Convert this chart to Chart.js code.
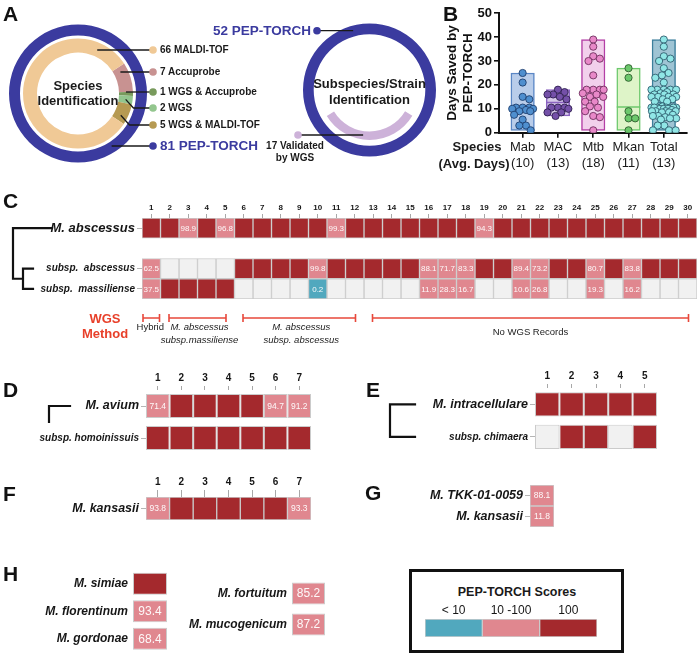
<!DOCTYPE html>
<html>
<head>
<meta charset="utf-8">
<script src="https://cdn.jsdelivr.net/npm/chart.js@4.4.0/dist/chart.umd.min.js"></script>
<style>
  body { margin: 0; background: #fff; }
  #fig { position: relative; width: 700px; height: 655px; overflow: hidden;
         font-family: "Liberation Sans", Arial, sans-serif; color: #1a1a1a; }
  #fig canvas { position: absolute; }
  .t { position: absolute; white-space: nowrap; line-height: 1; }
  .legendBox { position: absolute; left: 409px; top: 569px; width: 215px; height: 84px;
               box-sizing: border-box; border: 3px solid #111; }
</style>
</head>
<body>
<div id="fig"><div class="legendBox"></div></div>
<script>
// ---- A: identification counts
const methodLabels = ['Accuprobe', 'WGS & Accuprobe', 'WGS', 'WGS & MALDI-TOF', 'MALDI-TOF'];
const methodCounts = [7, 1, 2, 5, 66];
const speciesPepTorch = 81;
const strainPepTorch = 52;
const strainValidated = 17;

// ---- B: days saved per species group
const groupNames = ['Mab', 'MAC', 'Mtb', 'Mkan', 'Total'];
const groupAvgDays = [10, 13, 18, 11, 13];
const groupMeans = [10, 12.6, 17, 10.8, 12.6];
const mabDays = [25, 21, 15, 14, 10.5, 10.5, 10.5, 10, 10, 9.5, 9, 9, 7.5, 5.5, 3, 3, 1];
const macDays = [18, 17, 16, 16, 15, 14, 10.5, 10.5, 10.5, 10, 8.5, 8.5, 7];
const mtbDays = [39, 36, 32, 31, 30, 24, 18, 18, 18, 18, 16.5, 16, 15, 15, 13, 13, 11, 10.5, 9, 7, 6.5, 1];
const mkanDays = [27, 23, 9, 6, 6, 1];
const totalDays = [].concat(mabDays, macDays, mtbDays, mkanDays);

// ---- C: M. abscessus, 30 isolates
const colsC = ['1','2','3','4','5','6','7','8','9','10','11','12','13','14','15',
               '16','17','18','19','20','21','22','23','24','25','26','27','28','29','30'];
const rowsC = ['M. abscessus', '', 'subsp.  abscessus', 'subsp.  massiliense'];
const scoreAbscessus = [100, 100, 98.9, 100, 96.8, 100, 100, 100, 100, 100, 99.3, 100, 100, 100, 100,
                        100, 100, 100, 94.3, 100, 100, 100, 100, 100, 100, 100, 100, 100, 100, 100];
const scoreSubAbscessus = [62.5, null, null, null, null, 100, 100, 100, 100, 99.8, 100, 100, 100, 100, 100,
                           88.1, 71.7, 83.3, 100, 100, 89.4, 73.2, 100, 100, 80.7, 100, 83.8, 100, 100, 100];
const scoreMassiliense = [37.5, 100, 100, 100, 100, null, null, null, null, 0.2, null, null, null, null, null,
                          11.9, 28.3, 16.7, null, null, 10.6, 26.8, null, null, 19.3, null, 16.2, null, null, null];
const wgsMethods = [
  { from: 1, to: 1, text: ['Hybrid'], italic: false },
  { from: 2, to: 5, text: ['M. abscessus', 'subsp.massiliense'], italic: true },
  { from: 6, to: 12, text: ['M. abscessus', 'subsp. abscessus'], italic: true },
  { from: 13, to: 30, text: ['No WGS Records'], italic: false }
];

// ---- D / E / F / G / H
const cols7 = ['1','2','3','4','5','6','7'];
const cols5 = ['1','2','3','4','5'];
const rowsD = ['M. avium', 'subsp. homoinissuis'];
const scoreAvium = [71.4, 100, 100, 100, 100, 94.7, 91.2];
const scoreHomoinissuis = [100, 100, 100, 100, 100, 100, 100];
const rowsE = ['M. intracellulare', 'subsp. chimaera'];
const scoreIntracellulare = [100, 100, 100, 100, 100];
const scoreChimaera = [null, 100, 100, null, 100];
const rowsF = ['M. kansasii'];
const scoreKansasii = [93.8, 100, 100, 100, 100, 100, 93.3];
const rowsG = ['M. TKK-01-0059', 'M. kansasii'];
const scoreG = [88.1, 11.8];
const rowsH1 = ['M. simiae', 'M. florentinum', 'M. gordonae'];
const scoreH1 = [100, 93.4, 68.4];
const rowsH2 = ['M. fortuitum', 'M. mucogenicum'];
const scoreH2 = [85.2, 87.2];
const scoreBins = ['< 10', '10 -100', '100'];
const binSamples = [5, 50, 100];

// ---------------------------------------------------------------
const fig = document.getElementById('fig');
const FAM = 'Liberation Sans';
Chart.defaults.font.family = FAM;
const RING_BLUE = '#3b3b9f', LILAC = '#cdb2d9';
const methodColors = ['#c89291', '#789a5c', '#93c68e', '#b69a52', '#f0c996'];
const PINK = '#e0878f', RED = '#a4292d', TEAL = '#51a8be', EMPTY = '#f1f1f1';

function scoreColor(v) {
  if (v === null || v === undefined) return EMPTY;
  if (v < 10) return TEAL;
  if (v < 100) return PINK;
  return RED;
}

function makeCanvas(l, t, w, h) {
  const c = document.createElement('canvas');
  c.width = w; c.height = h;
  c.style.left = l + 'px'; c.style.top = t + 'px';
  c.style.width = w + 'px'; c.style.height = h + 'px';
  fig.appendChild(c);
  return c;
}

function txt(s, x, y, css, align) {
  const d = document.createElement('div');
  d.className = 't';
  d.textContent = s;
  d.style.cssText += css;
  d.style.left = x + 'px';
  d.style.top = y + 'px';
  const tx = align === 'right' ? '-100%' : align === 'left' ? '0' : '-50%';
  d.style.transform = 'translate(' + tx + ',-50%)';
  fig.appendChild(d);
}

const base = { responsive: false, animation: false, events: [],
               plugins: { legend: { display: false }, tooltip: { enabled: false } } };

// ---------------- A: doughnuts
function leaderPlugin(items, offX, offY) {
  return {
    id: 'leaders',
    afterDatasetsDraw(chart) {
      const ctx = chart.ctx;
      ctx.save();
      items.forEach(it => {
        const arc = chart.getDatasetMeta(it.ds).data[0];
        const r = (arc.innerRadius + arc.outerRadius) / 2;
        const a = (it.angle - 90) * Math.PI / 180;
        const px = arc.x + r * Math.cos(a), py = arc.y + r * Math.sin(a);
        const dx = it.dotX - offX, dy = it.dotY - offY;
        ctx.strokeStyle = '#1a1a1a';
        ctx.lineWidth = 1.3;
        ctx.beginPath();
        if (Math.abs(dy - py) > 3) {
          ctx.moveTo(px, py);
          ctx.lineTo(px + Math.abs(dy - py) * 0.9 * Math.sign(dx - px), dy);
        } else {
          ctx.moveTo(px, dy);
        }
        ctx.lineTo(dx, dy);
        ctx.stroke();
        ctx.fillStyle = it.color;
        ctx.beginPath();
        ctx.arc(dx, dy, 3.8, 0, Math.PI * 2);
        ctx.fill();
      });
      ctx.restore();
    }
  };
}

const leftDotY = [72, 92, 108, 125, 50];
const leftAngles = [62, 88, 97, 117, 23.6];
const leftItems = methodCounts.map((c, i) => ({ ds: 2, angle: leftAngles[i], dotX: 153, dotY: leftDotY[i], color: methodColors[i] }));
leftItems.push({ ds: 0, angle: 148, dotX: 153, dotY: 146, color: RING_BLUE });

new Chart(makeCanvas(0, 0, 240, 187), {
  type: 'doughnut',
  data: {
    labels: methodLabels,
    datasets: [
      { data: [speciesPepTorch], backgroundColor: [RING_BLUE], weight: 11 },
      { data: [1], backgroundColor: ['rgba(0,0,0,0)'], weight: 3 },
      { data: methodCounts, backgroundColor: methodColors, weight: 14, rotation: 57 }
    ]
  },
  options: Object.assign({}, base, {
    radius: 69, cutout: (41 / 69 * 100) + '%',
    elements: { arc: { borderWidth: 0 } },
    layout: { padding: { left: 0, right: 84, top: 0, bottom: 0 } }
  }),
  plugins: [leaderPlugin(leftItems, 0, 0)]
});

new Chart(makeCanvas(220, 0, 220, 180), {
  type: 'doughnut',
  data: {
    labels: ['Validated by WGS', 'Other'],
    datasets: [
      { data: [strainPepTorch], backgroundColor: [RING_BLUE], weight: 10.7 },
      { data: [1], backgroundColor: ['rgba(0,0,0,0)'], weight: 5.8 },
      { data: [strainValidated, strainPepTorch - strainValidated], backgroundColor: [LILAC, 'rgba(0,0,0,0)'], weight: 8.5, rotation: 121 }
    ]
  },
  options: Object.assign({}, base, {
    radius: 66.5, cutout: (41.5 / 66.5 * 100) + '%',
    elements: { arc: { borderWidth: 0 } },
    layout: { padding: { left: 79, right: 0, top: 0, bottom: 0 } }
  }),
  plugins: [leaderPlugin([
    { ds: 0, angle: 344.5, dotX: 317, dotY: 30.7, color: RING_BLUE },
    { ds: 2, angle: 188, dotX: 298, dotY: 135, color: LILAC }
  ], 220, 0)]
});

const panelCss = 'font-weight:bold;font-size:21px;color:#111;';
txt('A', 3, 13, panelCss, 'left');
txt('Species', 78, 85, 'font-weight:bold;font-size:13px;', 'center');
txt('Identification', 78, 100, 'font-weight:bold;font-size:13px;', 'center');
methodCounts.forEach((c, i) => txt(c + ' ' + methodLabels[i], 160, leftDotY[i], 'font-weight:bold;font-size:10px;', 'left'));
txt(speciesPepTorch + ' PEP-TORCH', 160, 146, 'font-weight:bold;font-size:13.5px;color:' + RING_BLUE + ';', 'left');
txt(strainPepTorch + ' PEP-TORCH', 311, 31, 'font-weight:bold;font-size:13.5px;color:' + RING_BLUE + ';', 'right');
txt('Subspecies/Strain', 369.5, 83, 'font-weight:bold;font-size:13px;', 'center');
txt('Identification', 369.5, 99, 'font-weight:bold;font-size:13px;', 'center');
txt(strainValidated + ' Validated', 295, 146, 'font-weight:bold;font-size:10px;', 'center');
txt('by WGS', 295, 158, 'font-weight:bold;font-size:10px;', 'center');

// ---------------- B: days saved
const X_PX = 37.2, Y_PX = 2.52, DOT = 7;
function swarm(vals, idx, spread) {
  const placed = [];
  const cands = [];
  for (let d = 0; d <= spread; d += 0.5) { cands.push(d); if (d) cands.push(-d); }
  return vals.slice().sort((a, b) => b - a).map(v => {
    const py = v * Y_PX;
    let best = 0, bestGap = -1;
    for (const dx of cands) {
      let gap = Infinity;
      placed.forEach(p => { gap = Math.min(gap, Math.hypot(dx - p[0], py - p[1])); });
      if (gap >= DOT) { best = dx; break; }
      if (gap > bestGap) { bestGap = gap; best = dx; }
    }
    placed.push([best, py]);
    return { x: idx + best / X_PX, y: v };
  });
}

const groups = [mabDays, macDays, mtbDays, mkanDays, totalDays];
const boxFill = ['#b9cdea', '#d6c9e9', '#f2d0ec', '#def4c8', '#9fc4d4'];
const boxLine = ['#5b87c5', '#8a62c0', '#b43fa6', '#6cc86c', '#3c7f9c'];
const dotFill = ['#4f8fcf', '#7450a8', '#e888c8', '#6cc86c', '#90e6e6'];
const dotLine = ['#1f3f6f', '#2f1f4f', '#6f2f5f', '#2f5f2f', '#2f5f6f'];

const bDatasets = [
  { type: 'bar', data: groups.map((g, i) => ({ x: i, y: [Math.min(...g), Math.max(...g)] })),
    backgroundColor: boxFill, borderColor: boxLine, borderWidth: 1.5, borderSkipped: false,
    barThickness: 23.5, order: 3 },
  { type: 'scatter', data: groupMeans.map((m, i) => ({ x: i, y: m })), pointStyle: 'line',
    pointRadius: 11.75, pointBorderColor: boxLine, pointBorderWidth: 1.5, order: 2 }
].concat(groups.map((g, i) => ({
  type: 'scatter', data: swarm(g, i, i === 4 ? 13 : 11), pointRadius: 3.6,
  pointBackgroundColor: dotFill[i], pointBorderColor: dotLine[i], pointBorderWidth: 0.9, order: 1
})));

new Chart(makeCanvas(430, 0, 270, 176), {
  type: 'bar',
  data: { datasets: bDatasets },
  options: Object.assign({}, base, {
    layout: { padding: { top: 6.7, right: 3, left: 0, bottom: 0 } },
    scales: {
      x: { type: 'linear', min: -0.67, max: 4.65, offset: false,
           afterBuildTicks: s => { s.ticks = groupNames.map((n, i) => ({ value: i })); },
           ticks: { autoSkip: false, maxRotation: 0, minRotation: 0, padding: 2, color: '#1a1a1a',
                    font: { size: 13 }, callback: (v, i) => [groupNames[i], '(' + groupAvgDays[i] + ')'] },
           grid: { offset: false, drawOnChartArea: false, drawTicks: true, tickLength: 5, color: '#111', lineWidth: 1.6 },
           border: { color: '#111', width: 2 },
           afterFit: s => { s.height = 43.3; s.paddingLeft = 0; s.paddingRight = 0; } },
      y: { min: 0, max: 50,
           ticks: { stepSize: 10, padding: 2, color: '#111', font: { size: 13, weight: 'bold' } },
           grid: { drawOnChartArea: false, drawTicks: true, tickLength: 5, color: '#111', lineWidth: 1.6 },
           border: { color: '#111', width: 2 },
           title: { display: true, text: ['Days Saved by', 'PEP-TORCH'], color: '#111',
                    font: { size: 13.5, weight: 'bold' }, padding: { top: 14, bottom: 0 } },
           afterFit: s => { s.width = 69; s.paddingTop = 0; s.paddingBottom = 0; } }
    }
  })
});

txt('B', 443, 13, panelCss, 'left');
txt('Species', 477, 146, 'font-weight:bold;font-size:13px;', 'center');
txt('(Avg. Days)', 474, 163, 'font-weight:bold;font-size:13px;', 'center');

// ---------------- heat maps (C-H)
function makeHeat(o) {
  const ncol = o.values.find(r => r).length;
  const topH = o.cols ? o.topH : 0;
  const cl = o.l - o.labelW, ct = o.t - topH;
  const cw = Math.ceil(o.labelW + o.w + 3), ch = Math.ceil(topH + o.h + (o.padB || 3));
  const cv = makeCanvas(cl, ct, cw, ch);
  const datasets = [];
  for (let j = 0; j < ncol; j++) {
    datasets.push({
      data: o.values.map(r => r ? 1 : null),
      backgroundColor: o.values.map(r => r ? scoreColor(r[j]) : 'rgba(0,0,0,0)'),
      borderColor: o.border || 'rgba(200,200,200,0.95)', borderWidth: 1, borderSkipped: false,
      barPercentage: o.barPct || 1, categoryPercentage: 1
    });
  }
  const extra = {
    id: 'heatExtra',
    afterDatasetsDraw(chart) {
      const ctx = chart.ctx;
      ctx.save();
      if (o.cellFont) {
        ctx.font = o.cellFont + 'px ' + FAM;
        ctx.fillStyle = 'rgba(255,255,255,0.95)';
        ctx.textAlign = 'center';
        ctx.textBaseline = 'middle';
        chart.data.datasets.forEach((ds, j) => chart.getDatasetMeta(j).data.forEach((el, i) => {
          const r = o.values[i];
          if (!r) return;
          const v = r[j];
          if (v === null || v >= 100) return;
          const p = el.getCenterPoint();
          ctx.fillText(v.toFixed(1), p.x, p.y + 0.5);
        }));
      }
      if (o.tree) {
        const ys = chart.scales.y;
        ctx.strokeStyle = '#111';
        ctx.lineWidth = 2.2;
        ctx.lineCap = 'square';
        ctx.beginPath();
        o.tree.forEach(s => {
          ctx.moveTo(s[0] - cl, ys.getPixelForValue(s[1]));
          ctx.lineTo(s[2] - cl, ys.getPixelForValue(s[3]));
        });
        ctx.stroke();
      }
      if (o.brackets) {
        const xs = chart.scales.x;
        const yb = o.bracketY - ct;
        ctx.strokeStyle = '#e8483b';
        ctx.lineWidth = 1.6;
        ctx.lineCap = 'butt';
        ctx.beginPath();
        o.brackets.forEach(b => {
          const inset = b.from === b.to ? 1 : 8.5;
          const xa = xs.getPixelForValue(b.from - 1) + inset, xb = xs.getPixelForValue(b.to) - inset;
          ctx.moveTo(xa, yb); ctx.lineTo(xb, yb);
          ctx.moveTo(xa, yb - 4); ctx.lineTo(xa, yb + 4);
          ctx.moveTo(xb, yb - 4); ctx.lineTo(xb, yb + 4);
        });
        ctx.stroke();
      }
      ctx.restore();
    }
  };
  const yTick = o.yTick === undefined ? 5 : o.yTick;
  const xTick = o.xTick === undefined ? 4 : o.xTick;
  return new Chart(cv, {
    type: 'bar',
    data: { labels: o.rows, datasets },
    options: Object.assign({}, base, {
      indexAxis: 'y',
      layout: { padding: { left: 0, top: 0, right: cw - o.labelW - o.w, bottom: ch - topH - o.h } },
      scales: {
        x: { type: 'linear', position: 'top', stacked: true, min: 0, max: ncol, offset: false, display: !!o.cols,
             afterBuildTicks: s => { if (o.cols) s.ticks = o.cols.map((c, i) => ({ value: i + 0.5 })); },
             ticks: { autoSkip: false, maxRotation: 0, minRotation: 0, padding: o.xPad === undefined ? 1 : o.xPad,
                      color: '#161616', font: { size: o.colFont || 8, weight: o.colWeight || 'bold' },
                      callback: (v, i) => o.cols ? o.cols[i] : '' },
             grid: { drawOnChartArea: false, drawTicks: xTick > 0, tickLength: xTick, color: '#a8a8a8', lineWidth: 1 },
             border: { display: false },
             afterFit: s => { s.height = topH; s.paddingLeft = 0; s.paddingRight = 0; } },
        y: { type: 'category', stacked: true, offset: true, display: o.labelW > 0,
             grid: { offset: false, drawOnChartArea: false, drawTicks: yTick > 0, tickLength: yTick,
                     color: c => (c.tick && c.tick.label) ? '#b5b5b5' : 'rgba(0,0,0,0)', lineWidth: 1 },
             border: { display: false },
             ticks: { autoSkip: false, padding: o.yPad === undefined ? 2 : o.yPad, color: '#161616',
                      font: c => ({ size: o.rowFonts ? o.rowFonts[c.index] : 12, weight: 'bold', style: 'italic' }) },
             afterFit: s => { s.width = o.labelW; s.paddingTop = 0; s.paddingBottom = 0; } }
      }
    }),
    plugins: [extra]
  });
}

// C
const colW = 555 / colsC.length;
makeHeat({ rows: rowsC, values: [scoreAbscessus, null, scoreSubAbscessus, scoreMassiliense], cols: colsC,
  l: 142, t: 218, w: 555, h: 81, labelW: 142, topH: 15, padB: 48, rowFonts: [13, 10, 10, 10],
  colFont: 8, xTick: 4, cellFont: 8,
  tree: [[13, 0, 52, 0], [13, 0, 13, 2.5], [13, 2.5, 23, 2.5], [23, 2, 23, 3], [23, 2, 33, 2], [23, 3, 33, 3]],
  brackets: wgsMethods, bracketY: 318 });
txt('C', 3, 200, panelCss, 'left');
txt('WGS', 105, 318, 'font-weight:bold;font-size:13px;color:#e8402a;', 'center');
txt('Method', 105, 333, 'font-weight:bold;font-size:13px;color:#e8402a;', 'center');
wgsMethods.forEach(m => {
  const cx = 142 + ((m.from - 1) + m.to) / 2 * colW;
  const css = 'font-size:9.5px;color:#222;' + (m.italic ? 'font-style:italic;' : '');
  if (m.text.length === 1) txt(m.text[0], m.from === m.to ? cx - 1 : cx, m.from === m.to ? 327 : 332, css, 'center');
  else { txt(m.text[0], cx + 2, 327, css, 'center'); txt(m.text[1], cx + 2, 340, css, 'center'); }
});

// D
makeHeat({ rows: rowsD, values: [scoreAvium, scoreHomoinissuis], cols: cols7,
  l: 146, t: 390, w: 165, h: 64, barPct: 0.75, labelW: 146, topH: 20, rowFonts: [12.5, 10],
  colFont: 10, xTick: 4, xPad: 2, cellFont: 8.5,
  tree: [[49, 0, 70, 0], [49, 0, 49, 0.5]] });
txt('D', 3, 389, panelCss, 'left');

// E
makeHeat({ rows: rowsE, values: [scoreIntracellulare, scoreChimaera], cols: cols5,
  l: 535, t: 388.3, w: 122, h: 65.2, barPct: 0.745, labelW: 150, topH: 20, rowFonts: [12.5, 10],
  colFont: 10, xTick: 4, xPad: 2, cellFont: 8.5,
  tree: [[390, 0, 415, 0], [390, 0, 390, 1], [390, 1, 415, 1]] });
txt('E', 366, 389, panelCss, 'left');

// F
makeHeat({ rows: rowsF, values: [scoreKansasii], cols: cols7,
  l: 146, t: 497, w: 165, h: 23, labelW: 146, topH: 20, rowFonts: [12.5],
  colFont: 10, xTick: 7, xPad: 2, cellFont: 8.5 });
txt('F', 3, 493, panelCss, 'left');

// G
makeHeat({ rows: rowsG, values: scoreG.map(v => [v]), cols: null,
  l: 530, t: 485, w: 24, h: 42, labelW: 165, rowFonts: [12.5, 12.5], cellFont: 8.5 });
txt('G', 365, 492, panelCss, 'left');

// H
makeHeat({ rows: rowsH1, values: scoreH1.map(v => [v]), cols: null,
  l: 133, t: 570.25, w: 34, h: 82.5, barPct: 0.8, labelW: 133, rowFonts: [12, 12, 12],
  yTick: 0, yPad: 5, cellFont: 12, padB: 2 });
makeHeat({ rows: rowsH2, values: scoreH2.map(v => [v]), cols: null,
  l: 292, t: 577.5, w: 33, h: 62, barPct: 0.71, labelW: 120, rowFonts: [12, 12],
  yTick: 0, yPad: 5, cellFont: 12 });
txt('H', 3, 573, panelCss, 'left');

// legend colour bar
txt('PEP-TORCH Scores', 517, 592, 'font-weight:bold;font-size:12.5px;', 'center');
makeHeat({ rows: [''], values: [binSamples], cols: scoreBins,
  l: 425, t: 619, w: 172, h: 18, labelW: 0, topH: 14, colFont: 12, colWeight: 'normal',
  xTick: 0, xPad: 1, border: 'rgba(200,200,200,0.9)' });
</script>
</body>
</html>
